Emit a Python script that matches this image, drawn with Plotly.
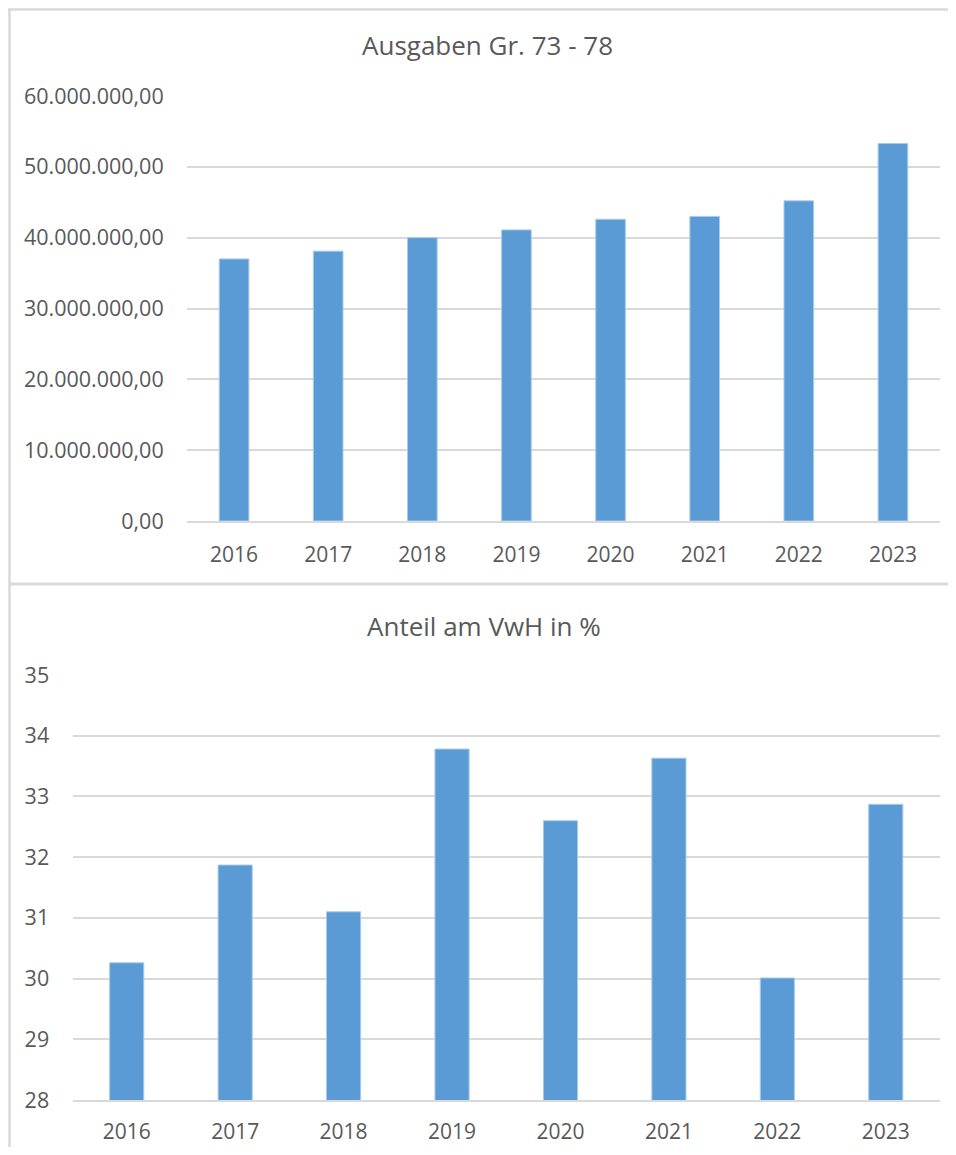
import plotly.graph_objects as go

years = ["2016", "2017", "2018", "2019", "2020", "2021", "2022", "2023"]
ausgaben = [37.0e6, 38.1e6, 40.0e6, 41.1e6, 42.6e6, 43.0e6, 45.2e6, 53.3e6]
anteil = [30.26, 31.87, 31.10, 33.78, 32.60, 33.63, 30.01, 32.87]
title_top = "Ausgaben Gr. 73 - 78"
title_bottom = "Anteil am VwH in %"

# page body has an 8px margin, so the figure fills the window minus that
OFF = 8
W, H = 956 - 2 * OFF, 1155 - 2 * OFF
BAR = "#5B9BD5"
GRID = "#D9D9D9"
TXT = "#595959"
FONT = "Open Sans"


def px(x):
    return (x - OFF) / W


def py(y):
    return 1 - (y - OFF) / H


fig = go.Figure()
fig.add_trace(go.Bar(x=years, y=ausgaben, marker=dict(color=BAR, line=dict(color="#A9CBEB", width=1)),
                     xaxis="x", yaxis="y", showlegend=False, hoverinfo="skip"))
fig.add_trace(go.Bar(x=years, y=anteil, marker=dict(color=BAR, line=dict(color="#A9CBEB", width=1)),
                     xaxis="x2", yaxis="y2", showlegend=False, hoverinfo="skip"))

xcommon = dict(tickfont=dict(family=FONT, size=21, color=TXT), fixedrange=True, automargin=False)
ycommon = dict(tickfont=dict(family=FONT, size=21.5, color=TXT), fixedrange=True, automargin=False)

fig.update_layout(
    width=W, height=H,
    margin=dict(l=0, r=0, t=0, b=0, autoexpand=False),
    paper_bgcolor="white", plot_bgcolor="white",
    separators=",.",
    bargap=0.685,
    font=dict(family=FONT, color=TXT),
    xaxis=dict(domain=[px(187), px(940)], anchor="y", type="category",
               showgrid=False, showline=True, linecolor=GRID, linewidth=2,
               ticks="outside", ticklen=14, tickcolor="rgba(0,0,0,0)", **xcommon),
    yaxis=dict(domain=[py(521), py(96)], anchor="x", range=[0, 60e6], dtick=10e6,
               tickformat=",.2f", showgrid=True, gridcolor=GRID, gridwidth=2,
               zeroline=False, showline=False,
               ticks="outside", ticklen=18, tickcolor="rgba(0,0,0,0)", **ycommon),
    xaxis2=dict(domain=[px(72.5), px(940)], anchor="y2", type="category",
                showgrid=False, showline=True, linecolor=GRID, linewidth=2,
                ticks="outside", ticklen=12, tickcolor="rgba(0,0,0,0)", **xcommon),
    yaxis2=dict(domain=[py(1100), py(675)], anchor="x2", range=[28, 35], dtick=1,
                showgrid=True, gridcolor=GRID, gridwidth=2, zeroline=False, showline=False,
                ticks="outside", ticklen=18, tickcolor="rgba(0,0,0,0)", **ycommon),
    annotations=[
        dict(text=title_top, x=px(487), y=py(45), xref="paper", yref="paper",
             xanchor="center", yanchor="middle", showarrow=False,
             font=dict(family=FONT, size=26, color=TXT)),
        dict(text=title_bottom, x=px(484), y=py(626), xref="paper", yref="paper",
             xanchor="center", yanchor="middle", showarrow=False,
             font=dict(family=FONT, size=26, color=TXT)),
    ],
    shapes=[
        dict(type="line", xref="paper", yref="paper", x0=0, x1=1, y0=py(9.5), y1=py(9.5),
             line=dict(color=GRID, width=2.5)),
        dict(type="line", xref="paper", yref="paper", x0=px(9.5), x1=px(9.5), y0=py(9.5), y1=0,
             line=dict(color=GRID, width=2.5)),
        dict(type="line", xref="paper", yref="paper", x0=px(9.5), x1=1, y0=py(584), y1=py(584),
             line=dict(color=GRID, width=3)),
    ],
)

fig.write_html("out.html")
